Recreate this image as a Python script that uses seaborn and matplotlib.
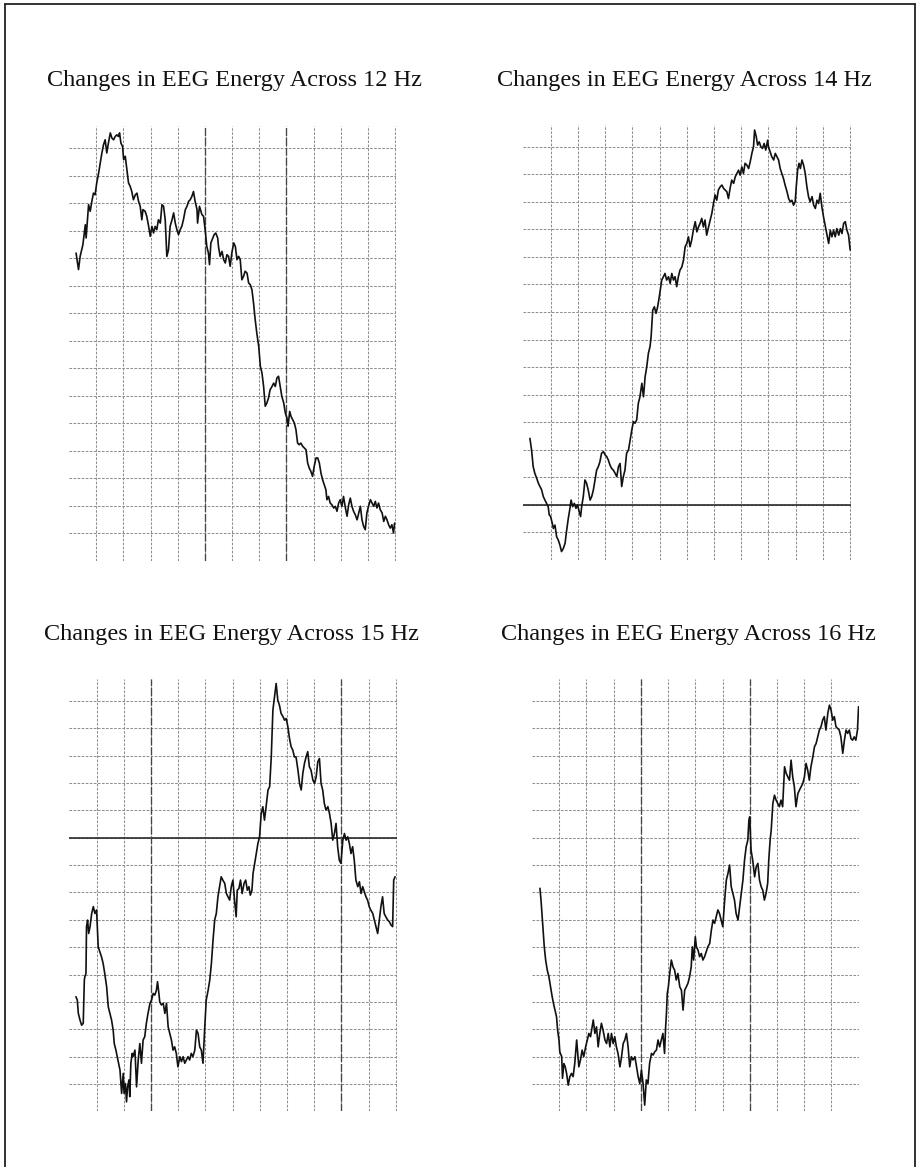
import matplotlib
matplotlib.use("Agg")
import matplotlib.pyplot as plt
import seaborn as sns
from matplotlib.lines import Line2D

# ---------------- data (grid units) ----------------
titles = ["Changes in EEG Energy Across 12 Hz", "Changes in EEG Energy Across 14 Hz",
          "Changes in EEG Energy Across 15 Hz", "Changes in EEG Energy Across 16 Hz"]

t12 = [0.26,0.35,0.41,0.51,0.60,0.63,0.72,0.78,0.84,0.90,
       0.96,1.02,1.09,1.15,1.21,1.27,1.33,1.39,1.45,1.52,
       1.58,1.64,1.70,1.76,1.82,1.86,1.91,1.97,2.01,2.07,
       2.13,2.19,2.25,2.31,2.37,2.44,2.50,2.56,2.62,2.68,
       2.72,2.80,2.86,2.93,2.99,3.05,3.11,3.17,3.23,3.29,
       3.36,3.42,3.48,3.54,3.60,3.66,3.72,3.79,3.85,3.91,
       3.97,4.03,4.09,4.15,4.21,4.28,4.34,4.40,4.46,4.52,
       4.58,4.64,4.71,4.73,4.80,4.89,4.95,5.01,5.07,5.13,
       5.17,5.22,5.29,5.34,5.40,5.47,5.50,5.56,5.63,5.69,
       5.75,5.81,5.87,5.93,5.99,6.06,6.12,6.18,6.24,6.30,
       6.36,6.42,6.48,6.55,6.61,6.67,6.73,6.79,6.85,6.91,
       6.98,7.04,7.10,7.16,7.22,7.28,7.34,7.40,7.47,7.53,
       7.59,7.65,7.71,7.77,7.83,7.90,7.96,8.02,8.06,8.12,
       8.17,8.23,8.29,8.35,8.41,8.47,8.53,8.60,8.66,8.72,
       8.78,8.84,8.90,8.96,9.02,9.09,9.15,9.21,9.27,9.33,
       9.39,9.45,9.49,9.55,9.61,9.67,9.74,9.80,9.86,9.92,
       9.98,10.04,10.10,10.17,10.23,10.29,10.35,10.41,10.47,10.53,
       10.60,10.66,10.72,10.78,10.84,10.90,10.96,11.02,11.09,11.15,
       11.21,11.27,11.33,11.39,11.45,11.52,11.58,11.64,11.70,11.76,
       11.82,11.88,11.94,11.98]
e12 = [11.18,10.58,11.06,11.48,12.21,11.73,12.94,12.70,13.06,13.36,
       13.30,13.73,14.09,14.45,14.82,15.12,15.30,14.82,15.18,15.55,
       15.36,15.30,15.42,15.48,15.42,15.55,15.18,15.06,14.58,14.70,
       14.21,13.73,13.61,13.42,13.12,13.30,13.36,13.06,12.88,12.39,
       12.76,12.70,12.52,12.15,11.79,12.15,11.91,12.15,12.03,12.39,
       12.27,12.94,12.88,12.39,11.06,11.30,12.15,12.39,12.64,12.27,
       12.03,11.85,12.03,12.15,12.39,12.76,12.88,13.06,13.12,13.24,
       13.42,13.06,12.76,12.27,12.88,12.58,12.52,12.03,11.42,11.18,
       10.76,11.55,11.73,11.85,11.91,11.73,11.42,11.06,11.24,10.94,
       10.82,11.12,11.06,10.70,11.18,11.55,11.42,10.94,11.06,10.94,
       10.21,10.33,10.52,10.45,10.09,10.03,9.85,9.36,8.76,8.27,
       7.79,7.06,6.82,6.33,5.61,5.73,5.91,6.21,6.33,6.45,
       6.33,6.64,6.70,6.33,5.97,5.73,5.36,5.18,4.88,5.42,
       5.24,5.12,5.00,4.76,4.27,4.21,4.27,4.15,4.09,4.03,
       3.55,3.36,3.24,3.06,3.42,3.73,3.73,3.55,3.18,2.94,
       2.76,2.58,2.21,2.33,2.09,2.03,1.91,1.97,1.79,2.09,
       2.21,1.97,2.33,1.91,1.61,2.03,2.27,1.97,1.79,1.67,
       1.48,1.73,1.97,1.48,1.24,1.12,1.73,1.97,2.21,2.09,
       1.97,2.15,1.91,2.09,1.85,1.73,1.42,1.61,1.48,1.30,
       1.18,1.30,1.00,1.36]

t14 = [0.24,0.30,0.36,0.42,0.49,0.55,0.61,0.67,0.73,0.79,
       0.85,0.91,0.95,1.00,1.06,1.10,1.16,1.22,1.28,1.34,
       1.40,1.47,1.53,1.59,1.65,1.71,1.75,1.81,1.87,1.93,
       1.99,2.05,2.10,2.14,2.20,2.26,2.32,2.38,2.45,2.51,
       2.57,2.63,2.69,2.75,2.81,2.87,2.94,3.00,3.06,3.12,
       3.18,3.24,3.30,3.37,3.43,3.49,3.55,3.61,3.67,3.73,
       3.79,3.86,3.92,3.98,4.04,4.10,4.16,4.22,4.28,4.35,
       4.41,4.47,4.53,4.59,4.65,4.69,4.75,4.81,4.87,4.93,
       4.99,5.08,5.14,5.20,5.26,5.33,5.39,5.45,5.51,5.57,
       5.63,5.69,5.75,5.82,5.88,5.94,6.00,6.06,6.12,6.18,
       6.24,6.31,6.37,6.43,6.49,6.55,6.61,6.67,6.73,6.80,
       6.86,6.92,6.98,7.04,7.10,7.16,7.23,7.29,7.35,7.41,
       7.47,7.53,7.59,7.65,7.72,7.78,7.84,7.90,7.96,8.02,
       8.08,8.14,8.21,8.27,8.33,8.39,8.45,8.49,8.55,8.60,
       8.66,8.72,8.78,8.84,8.90,8.97,9.00,9.06,9.12,9.19,
       9.25,9.31,9.37,9.43,9.49,9.55,9.61,9.68,9.74,9.80,
       9.86,9.92,9.98,10.02,10.07,10.12,10.17,10.23,10.29,10.35,
       10.41,10.47,10.53,10.60,10.66,10.72,10.78,10.84,10.90,10.96,
       11.02,11.09,11.15,11.21,11.27,11.33,11.39,11.45,11.51,11.58,
       11.64,11.70,11.76,11.82,11.88,11.94,12.00]
e14 = [4.41,3.99,3.38,3.14,2.96,2.78,2.66,2.54,2.30,2.17,
       2.05,1.93,1.63,1.57,1.33,1.14,1.26,0.84,0.72,0.54,
       0.30,0.42,0.60,1.08,1.51,1.87,2.17,1.93,2.05,1.87,
       1.99,1.75,1.57,1.93,2.30,2.90,2.78,2.54,2.17,2.30,
       2.54,2.90,3.26,3.38,3.56,3.87,3.93,3.81,3.75,3.62,
       3.44,3.32,3.26,3.14,3.02,3.38,3.50,2.66,3.02,3.26,
       3.87,3.99,4.35,4.71,5.02,4.96,5.08,5.68,5.92,6.41,
       5.92,6.65,7.01,7.50,7.74,8.10,9.07,9.19,8.95,9.19,
       9.55,10.16,10.28,10.40,10.16,10.28,10.04,10.40,10.16,10.28,
       9.92,10.28,10.52,10.64,10.89,11.37,11.49,11.73,11.37,11.61,
       11.97,12.28,11.91,12.09,12.22,12.40,12.09,12.34,11.79,12.09,
       12.34,12.58,12.94,13.25,13.06,13.43,13.55,13.61,13.49,13.43,
       13.37,13.12,13.49,13.79,13.67,13.91,14.03,14.15,13.97,14.27,
       14.03,14.40,14.33,14.21,14.46,14.76,15.00,15.61,15.37,15.06,
       15.18,15.00,14.94,15.12,14.88,15.24,15.00,14.82,14.64,14.52,
       14.76,14.64,14.52,14.21,14.03,13.85,13.61,13.37,13.12,13.00,
       13.06,12.88,13.00,13.55,14.15,14.40,14.21,14.52,14.33,14.03,
       13.55,13.19,13.00,13.19,12.88,12.76,13.06,12.94,13.31,12.82,
       12.46,12.09,11.79,11.49,11.97,11.73,11.97,11.73,12.03,11.79,
       12.03,11.85,12.22,12.28,11.97,11.79,11.25]

t15 = [0.24,0.29,0.33,0.39,0.45,0.51,0.55,0.57,0.61,0.63,
       0.67,0.71,0.76,0.82,0.88,0.94,1.00,1.06,1.12,1.18,
       1.24,1.30,1.37,1.43,1.49,1.55,1.61,1.65,1.71,1.76,
       1.81,1.86,1.92,1.98,2.01,2.06,2.10,2.14,2.19,2.22,
       2.26,2.31,2.34,2.41,2.47,2.53,2.59,2.65,2.71,2.77,
       2.83,2.89,2.96,3.02,3.08,3.14,3.20,3.24,3.29,3.32,
       3.38,3.45,3.51,3.57,3.63,3.69,3.75,3.81,3.87,3.93,
       3.99,4.06,4.12,4.18,4.24,4.30,4.36,4.42,4.48,4.54,
       4.61,4.67,4.73,4.79,4.85,4.91,4.97,5.03,5.10,5.16,
       5.22,5.28,5.34,5.40,5.46,5.52,5.58,5.64,5.71,5.77,
       5.83,5.89,5.95,6.01,6.07,6.13,6.17,6.23,6.29,6.35,
       6.42,6.48,6.54,6.60,6.65,6.71,6.75,6.81,6.87,6.93,
       6.99,7.05,7.11,7.17,7.23,7.30,7.36,7.42,7.48,7.54,
       7.60,7.66,7.72,7.78,7.85,7.91,7.97,8.03,8.09,8.15,
       8.21,8.27,8.33,8.40,8.46,8.52,8.58,8.64,8.70,8.76,
       8.82,8.88,8.95,9.01,9.07,9.13,9.19,9.25,9.31,9.37,
       9.43,9.50,9.56,9.62,9.68,9.74,9.80,9.86,9.92,9.98,
       10.05,10.11,10.17,10.23,10.29,10.35,10.41,10.47,10.53,10.60,
       10.66,10.72,10.78,10.84,10.90,10.96,11.02,11.08,11.15,11.21,
       11.27,11.33,11.39,11.45,11.51,11.57,11.63,11.70,11.76,11.82,
       11.88,11.92,11.97]
e15 = [4.19,4.07,3.58,3.34,3.15,3.22,4.80,4.92,5.04,6.75,
       6.99,6.50,6.75,7.23,7.48,7.23,7.36,6.01,5.83,5.65,
       5.41,5.04,4.55,3.82,3.58,3.34,2.97,2.48,2.24,2.00,
       1.76,1.51,0.66,1.39,0.66,1.02,0.35,0.90,1.15,0.54,
       1.76,2.12,2.00,2.24,0.90,1.88,2.48,1.76,2.61,2.73,
       3.22,3.58,3.94,4.07,4.31,4.25,4.43,4.74,4.31,4.01,
       3.89,3.95,3.58,3.95,3.09,2.85,2.61,2.24,2.36,2.12,
       1.63,2.00,1.82,2.00,1.76,1.88,2.00,1.88,2.12,2.00,
       2.24,2.97,2.85,2.36,2.24,1.76,2.97,4.07,4.43,4.80,
       5.41,6.26,6.99,7.23,7.84,8.21,8.57,8.45,8.33,7.96,
       7.84,7.72,8.21,8.45,7.72,7.11,8.08,8.14,8.45,7.96,
       8.33,8.45,8.08,8.21,7.90,8.08,8.69,9.06,9.42,9.79,
       10.03,10.88,11.13,10.64,11.13,11.74,11.86,12.95,14.66,15.14,
       15.63,15.02,14.84,14.54,14.42,14.29,14.35,14.05,13.62,13.32,
       13.20,12.95,12.95,12.47,11.98,11.74,12.35,12.71,12.95,13.14,
       12.59,12.47,12.10,11.98,12.22,12.77,12.89,11.98,11.74,11.25,
       11.01,11.13,10.88,10.52,9.91,10.15,10.52,9.67,9.18,9.06,
       9.91,10.15,9.91,10.03,9.79,9.42,9.67,9.18,8.45,8.21,
       8.39,7.96,8.21,8.03,7.84,7.72,7.48,7.35,7.23,6.99,
       6.75,6.50,6.99,7.48,7.84,7.23,7.11,6.99,6.93,6.81,
       6.75,8.45,8.57]

t16 = [0.29,0.33,0.38,0.41,0.45,0.50,0.56,0.62,0.68,0.74,
       0.80,0.87,0.90,0.94,0.99,1.02,1.09,1.12,1.17,1.22,
       1.27,1.33,1.39,1.45,1.51,1.57,1.64,1.67,1.72,1.78,
       1.84,1.90,1.97,2.03,2.09,2.15,2.21,2.25,2.31,2.37,
       2.43,2.49,2.55,2.61,2.68,2.74,2.80,2.86,2.92,2.98,
       3.04,3.10,3.16,3.23,3.29,3.35,3.41,3.47,3.53,3.59,
       3.65,3.71,3.78,3.84,3.90,3.96,4.02,4.08,4.14,4.20,
       4.26,4.32,4.39,4.45,4.51,4.57,4.63,4.69,4.75,4.81,
       4.87,4.91,4.94,4.97,5.01,5.06,5.12,5.18,5.24,5.30,
       5.36,5.43,5.49,5.55,5.61,5.67,5.73,5.79,5.85,5.89,
       5.94,6.00,6.04,6.10,6.16,6.22,6.28,6.34,6.40,6.46,
       6.53,6.59,6.65,6.71,6.77,6.83,6.89,6.95,7.01,7.08,
       7.14,7.20,7.26,7.32,7.38,7.44,7.50,7.57,7.63,7.69,
       7.75,7.81,7.87,7.93,7.97,8.00,8.05,8.11,8.18,8.24,
       8.30,8.36,8.42,8.48,8.54,8.60,8.66,8.70,8.75,8.79,
       8.85,8.91,8.97,9.03,9.09,9.15,9.21,9.28,9.34,9.40,
       9.46,9.52,9.58,9.64,9.70,9.77,9.83,9.89,9.95,10.01,
       10.07,10.13,10.19,10.25,10.32,10.38,10.44,10.50,10.56,10.62,
       10.68,10.74,10.80,10.87,10.93,10.99,11.05,11.11,11.17,11.23,
       11.29,11.35,11.42,11.48,11.54,11.60,11.66,11.72,11.78,11.84,
       11.90,11.96,12.00]
e16 = [8.15,7.72,6.99,6.50,6.01,5.53,5.16,4.92,4.55,4.19,
       3.89,3.58,3.46,2.97,2.61,2.18,2.00,1.21,1.75,1.63,
       1.39,0.96,1.27,1.39,1.27,1.75,2.61,2.24,1.63,1.88,
       2.24,2.00,2.36,2.61,2.85,2.73,3.09,3.34,2.85,3.09,
       2.36,2.85,3.22,2.97,2.61,2.48,2.85,2.36,2.85,2.48,
       2.73,2.36,2.12,1.63,2.00,2.48,2.61,2.85,2.36,1.63,
       2.00,1.88,2.00,1.63,1.27,1.02,1.51,1.02,0.23,1.15,
       1.02,1.75,2.12,2.06,2.18,2.24,2.61,2.36,2.61,2.85,
       2.12,3.09,3.58,4.31,4.55,5.04,5.53,5.28,5.16,4.80,
       5.04,4.55,4.43,3.70,4.43,4.55,4.68,4.92,5.28,6.01,
       5.53,6.38,6.01,5.89,5.65,5.77,5.53,5.65,5.83,6.01,
       6.14,6.62,6.99,6.87,7.11,7.36,7.23,6.99,6.75,7.72,
       8.45,8.69,9.00,8.21,7.96,7.72,7.23,6.99,7.48,7.96,
       8.45,9.18,9.67,9.91,10.64,10.76,9.54,9.18,8.57,8.94,
       9.06,8.45,8.21,8.08,7.72,7.96,8.33,9.18,9.91,10.28,
       11.25,11.55,11.37,11.25,11.13,11.37,11.13,12.59,12.35,12.22,
       12.10,12.83,12.22,11.86,11.13,11.61,11.74,11.86,11.98,12.22,
       12.71,12.47,12.10,12.59,12.95,13.32,13.44,13.68,13.93,14.05,
       14.29,14.42,13.93,14.54,14.84,14.66,14.29,14.42,14.05,13.99,
       13.93,13.68,13.08,13.56,13.93,13.81,13.93,13.62,13.56,13.68,
       13.56,13.93,14.78]

times = [t12, t14, t15, t16]
energies = [e12, e14, e15, e16]

# ---------------- style / layout ----------------
sns.set_style("white")
plt.rcParams["font.family"] = ["Liberation Serif", "DejaVu Serif"]

fig = plt.figure(figsize=(9.2, 11.67), dpi=100)

rects = [[0.0750, 0.5197, 0.3554, 0.3723],
         [0.5689, 0.5203, 0.3561, 0.3728],
         [0.0754, 0.0476, 0.3558, 0.3707],
         [0.5783, 0.0476, 0.3558, 0.3707]]
title_pos = [(0.2554, 0.9306), (0.7435, 0.9306), (0.2511, 0.4567), (0.7478, 0.4567)]
# heavier ruling lines on the chart paper: (horizontal, vertical)
dark_lines = [([], [5, 8]), ([2], []), ([10], [3, 10]), ([], [4, 8])]

for i in range(4):
    ax = fig.add_axes(rects[i])
    ax.set_xlim(0, 12.03)
    ax.set_ylim(0, 15.8)
    ax.set_xticks(range(1, 13))
    ax.set_yticks(range(1, 16))
    ax.tick_params(length=0, labelbottom=False, labelleft=False)
    ax.grid(True, color="#8f8f8f", linestyle=(0, (2.5, 1.4)), linewidth=0.75)
    ax.set_axisbelow(True)
    for s in ax.spines.values():
        s.set_visible(False)
    hs, vs = dark_lines[i]
    for h in hs:
        ax.axhline(h, color="#2a2a2a", linewidth=1.2, zorder=1)
    for v in vs:
        ax.axvline(v, color="#454545", linewidth=0.95, linestyle=(0, (6, 1.5)), zorder=1)
    sns.lineplot(x=times[i], y=energies[i], ax=ax, color="#111111", linewidth=1.2,
                 estimator=None, sort=False, zorder=3)
    ax.set_xlabel("")
    ax.set_ylabel("")
    fig.text(title_pos[i][0], title_pos[i][1], titles[i], ha="center", va="center",
             fontsize=17.5, color="#111111")

# page frame of the scanned figure
for xs, ys in [([5/920, 5/920], [0, 1 - 4/1167]),
               ([5/920, 915/920], [1 - 4/1167, 1 - 4/1167]),
               ([915/920, 915/920], [0, 1 - 4/1167])]:
    fig.add_artist(Line2D(xs, ys, transform=fig.transFigure, color="#222222", linewidth=1.3))

fig.savefig("out.png", dpi=100)
